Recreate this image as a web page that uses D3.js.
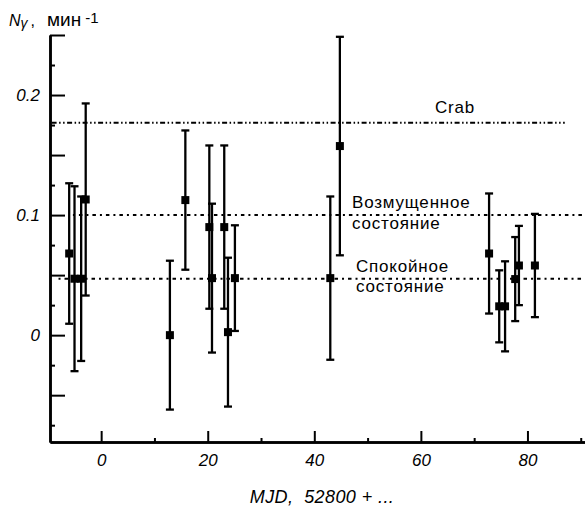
<!DOCTYPE html>
<html>
<head>
<meta charset="utf-8">
<script src="https://cdn.jsdelivr.net/npm/d3@7"></script>
<style>
  body { margin: 0; background: #fff; }
  text { font-family: "Liberation Sans", Arial, sans-serif; fill: #000; }
</style>
</head>
<body>
<svg id="chart" width="585" height="515"></svg>
<script>
// данные: день MJD (от 52800), поток и ошибка
const mjd  = [-6.0, -5.0, -3.75, -2.9, 12.9, 15.8, 20.3, 20.8, 23.1, 23.8, 25.1, 43.0, 44.8, 72.8, 74.7, 75.8, 77.7, 78.4, 81.4];
const flux = [0.068, 0.047, 0.047, 0.113, 0.0, 0.1125, 0.09, 0.0475, 0.09, 0.0025, 0.0475, 0.0475, 0.1575, 0.068, 0.024, 0.024, 0.0467, 0.058, 0.058];
const err  = [0.0585, 0.077, 0.0685, 0.08, 0.062, 0.058, 0.068, 0.062, 0.068, 0.062, 0.044, 0.068, 0.091, 0.05, 0.03, 0.0375, 0.035, 0.033, 0.043];

// уровни: Crab, возмущенное и спокойное состояние
const levelValues = [0.177, 0.1, 0.047];
const levelStart  = [-9.3, -5.3, -8.0];
const levelEnd    = [87.0, 90.8, 90.8];

const xMajorTicks = [0, 20, 40, 60, 80];
const xMinorTicks = [10, 30, 50, 70, 90];
const yMajorTicks = [-0.05, 0, 0.05, 0.1, 0.15, 0.2, 0.25];
const yMinorTicks = [-0.075, -0.025, 0.025, 0.075, 0.125, 0.175, 0.225];
const yTickLabels = [0, 0.1, 0.2];

const svg = d3.select('#chart');

const x = d3.scaleLinear().domain([-9.6, 90.8]).range([50, 585]);
const y = d3.scaleLinear().domain([-0.089, 0.25]).range([442, 35]);

// уровни
const dashes = ['5,2.5,1.5,2.5,1.5,2.5', '2,4,3.5,4', '2,4,3.5,4'];
svg.append('g').selectAll('line')
    .data(levelValues)
    .enter().append('line')
    .attr('x1', (d, i) => x(levelStart[i]))
    .attr('x2', (d, i) => x(levelEnd[i]))
    .attr('y1', d => y(d))
    .attr('y2', d => y(d))
    .attr('stroke', '#000')
    .attr('stroke-width', 2)
    .attr('stroke-dasharray', (d, i) => dashes[i]);

// оси
function styleAxis(g) {
    g.select('.domain').attr('stroke-width', 2.5);
    g.selectAll('.tick line').attr('stroke-width', 2);
    g.selectAll('.tick text')
        .attr('font-size', 17)
        .attr('font-style', 'italic')
        .attr('font-family', '"Liberation Sans", Arial, sans-serif');
}

svg.append('g')
    .attr('transform', 'translate(0,442)')
    .call(d3.axisBottom(x).tickValues(xMinorTicks).tickSize(-4).tickSizeOuter(0).tickFormat(''))
    .call(styleAxis);
svg.append('g')
    .attr('transform', 'translate(0,442)')
    .call(d3.axisBottom(x).tickValues(xMajorTicks).tickSize(-11).tickSizeOuter(0).tickPadding(12))
    .call(styleAxis);

svg.append('g')
    .attr('transform', 'translate(50,0)')
    .call(d3.axisLeft(y).tickValues(yMinorTicks).tickSize(-5).tickSizeOuter(0).tickFormat(''))
    .call(styleAxis);
svg.append('g')
    .attr('transform', 'translate(50,0)')
    .call(d3.axisLeft(y).tickValues(yMajorTicks).tickSize(-15).tickSizeOuter(0).tickPadding(10)
        .tickFormat(d => yTickLabels.some(v => Math.abs(v - d) < 1e-9) ? d3.format('')(+d.toFixed(2)) : ''))
    .call(styleAxis);

// ошибки
const points = mjd.map((m, i) => ({ m, f: flux[i], e: err[i] }));
const bars = svg.append('g').selectAll('g')
    .data(points)
    .enter().append('g');

bars.append('line')
    .attr('x1', d => x(d.m)).attr('x2', d => x(d.m))
    .attr('y1', d => y(d.f + d.e)).attr('y2', d => y(d.f - d.e))
    .attr('stroke', '#000').attr('stroke-width', 2.3);
bars.append('line')
    .attr('x1', d => x(d.m) - 4).attr('x2', d => x(d.m) + 4)
    .attr('y1', d => y(d.f + d.e)).attr('y2', d => y(d.f + d.e))
    .attr('stroke', '#000').attr('stroke-width', 2.3);
bars.append('line')
    .attr('x1', d => x(d.m) - 4).attr('x2', d => x(d.m) + 4)
    .attr('y1', d => y(d.f - d.e)).attr('y2', d => y(d.f - d.e))
    .attr('stroke', '#000').attr('stroke-width', 2.3);
bars.append('rect')
    .attr('x', d => x(d.m) - 4).attr('y', d => y(d.f) - 4)
    .attr('width', 8).attr('height', 8)
    .attr('fill', '#000');

// подписи уровней
const lbl = svg.append('g').attr('font-size', 17).attr('letter-spacing', 0.8);
lbl.append('text').attr('x', 455).attr('y', 113).attr('text-anchor', 'middle').text('Crab');
lbl.append('text').attr('x', 352).attr('y', 208).text('Возмущенное');
lbl.append('text').attr('x', 352).attr('y', 229).text('состояние');
lbl.append('text').attr('x', 356).attr('y', 272).text('Спокойное');
lbl.append('text').attr('x', 356).attr('y', 292).text('состояние');

// подпись оси Y
const yt = svg.append('text').attr('x', 9).attr('y', 26).attr('font-size', 16);
yt.append('tspan').attr('font-style', 'italic').text('N');
yt.append('tspan').attr('font-style', 'italic').attr('font-size', 14).attr('dy', 2).text('γ');
yt.append('tspan').attr('dy', -2).attr('dx', 3).text(',');
yt.append('tspan').attr('dx', 12).attr('font-size', 19).text('мин');
yt.append('tspan').attr('dx', 4).attr('dy', -3).attr('font-size', 15).text('-1');

// подпись оси X
svg.append('text')
    .attr('x', 322).attr('y', 503)
    .attr('text-anchor', 'middle')
    .attr('font-size', 18)
    .attr('letter-spacing', 0.4)
    .attr('font-style', 'italic')
    .attr('xml:space', 'preserve')
    .text('MJD,  52800 + ...');
</script>
</body>
</html>
